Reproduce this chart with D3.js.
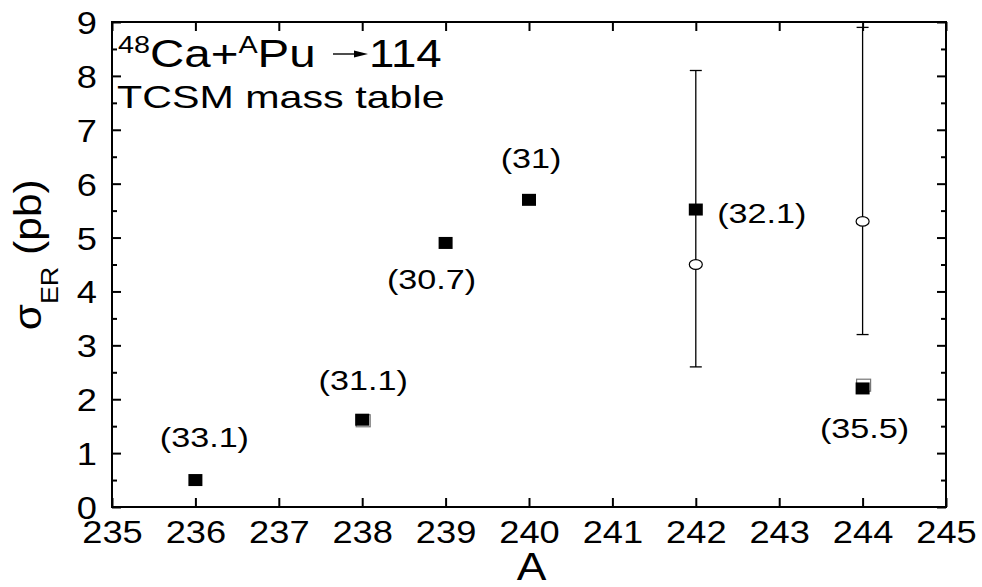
<!DOCTYPE html>
<html><head><meta charset="utf-8">
<script src="https://cdn.jsdelivr.net/npm/d3@7/dist/d3.min.js"></script>
<style>body{margin:0;background:#fff}svg{display:block}text{font-family:"Liberation Sans",Arial,sans-serif}</style>
</head><body>
<script>
const filledA = [236, 238, 239, 240, 242, 244];
const filledS = [0.5, 1.62, 4.9, 5.7, 5.52, 2.2];
const openSqA = [238, 244];
const openSqS = [1.6, 2.26];
const circA = [242, 244];
const circS = [4.5, 5.3];
const circLo = [2.6, 3.2];
const circHi = [8.1, 8.9];
const labelA = [236, 238, 239, 240, 242, 244];
const labelS = [0.5, 1.62, 4.9, 5.7, 5.52, 2.2];
const labelTxt = ["(33.1)", "(31.1)", "(30.7)", "(31)", "(32.1)", "(35.5)"];
const xTicks = d3.range(235, 246, 1);
const yTicks = d3.range(0, 10, 1);
const yMinor = d3.range(0.5, 9, 1);

const W = 982, H = 587;
const m = {l:112, r:36, t:22, b:80};
const svg = d3.select("body").append("svg").attr("width", W).attr("height", H);
const x = d3.scaleLinear().domain([235, 245]).range([m.l, W - m.r]);
const y = d3.scaleLinear().domain([0, 9]).range([H - m.b, m.t]);

// horizontally stretch a text around its anchor point
function stretch(sel, sx) {
  sel.each(function() {
    const t = d3.select(this);
    const tx = +t.attr("x") || 0, ty = +t.attr("y") || 0;
    t.attr("x", 0).attr("y", 0).attr("transform", `translate(${tx},${ty}) scale(${sx},1)`);
  });
}

// Frame
svg.append("rect").attr("x", x(235)).attr("y", y(9)).attr("width", x(245)-x(235)).attr("height", y(0)-y(9))
  .attr("fill", "none").attr("stroke", "#000").attr("stroke-width", 2);

const tfs = 31;
const xb = svg.append("g").attr("transform", `translate(0,${y(0)})`)
  .call(d3.axisBottom(x).tickValues(xTicks).tickSize(-9).tickPadding(14).tickFormat(d3.format("d")));
const xt = svg.append("g").attr("transform", `translate(0,${y(9)})`)
  .call(d3.axisTop(x).tickValues(xTicks).tickSize(-9).tickFormat(""));
const yl = svg.append("g").attr("transform", `translate(${x(235)},0)`)
  .call(d3.axisLeft(y).tickValues(yTicks).tickSize(-9).tickPadding(15).tickFormat(d3.format("d")));
const yr = svg.append("g").attr("transform", `translate(${x(245)},0)`)
  .call(d3.axisRight(y).tickValues(yTicks).tickSize(-9).tickFormat(""));
const ylm = svg.append("g").attr("transform", `translate(${x(235)},0)`)
  .call(d3.axisLeft(y).tickValues(yMinor).tickSize(-5).tickFormat(""));
const yrm = svg.append("g").attr("transform", `translate(${x(245)},0)`)
  .call(d3.axisRight(y).tickValues(yMinor).tickSize(-5).tickFormat(""));
[xb, xt, yl, yr, ylm, yrm].forEach(g => {
  g.select(".domain").remove();
  g.selectAll(".tick line").attr("stroke", "#000").attr("stroke-width", 2);
  g.selectAll("text").attr("font-size", tfs).attr("fill", "#000").style("font-family", '"Liberation Sans",Arial,sans-serif');
});
yl.selectAll("text").attr("dy", "0.37em");
stretch(xb.selectAll("text"), 1.17);
stretch(yl.selectAll("text"), 1.17);

// X axis label
svg.append("text").attr("x", x(240.03)).attr("y", 580).attr("text-anchor", "middle").attr("font-size", 39).text("A")
  .call(s => stretch(s, 1.14));
// Y axis label (rotated)
const yLab = svg.append("text").attr("transform", `translate(41,${y(4.68)}) rotate(-90) scale(1.12,1)`)
  .attr("text-anchor", "middle").attr("font-size", 38);
yLab.append("tspan").text("σ");
yLab.append("tspan").attr("font-size", 24).attr("dy", 17).text("ER");
yLab.append("tspan").attr("dy", -17).text(" (pb)");

// Title
const t1 = svg.append("text").attr("x", 118).attr("y", 67).attr("font-size", 38);
t1.append("tspan").attr("font-size", 23).attr("dy", -14).text("48");
t1.append("tspan").attr("dy", 14).text("Ca+");
t1.append("tspan").attr("font-size", 23).attr("dy", -14).text("A");
t1.append("tspan").attr("dy", 14).text("Pu");
stretch(t1, 1.25);
svg.append("line").attr("x1", 333).attr("x2", 360).attr("y1", 54).attr("y2", 54).attr("stroke", "#000").attr("stroke-width", 1.4);
svg.append("path").attr("d", "M354,50.5 L368,54 L354,57.5 Z").attr("fill", "#000");
const t1b = svg.append("text").attr("x", 369).attr("y", 67).attr("font-size", 38).text("114");
stretch(t1b, 1.2);
const t2 = svg.append("text").attr("x", 117).attr("y", 108).attr("font-size", 31).text("TCSM mass table");
stretch(t2, 1.33);

// Error bars
const eb = svg.append("g").attr("stroke", "#000").attr("stroke-width", 1.3);
circA.forEach((a, i) => {
  eb.append("line").attr("x1", x(a)).attr("x2", x(a)).attr("y1", y(circLo[i])).attr("y2", y(circHi[i]));
  [circLo[i], circHi[i]].forEach(v => eb.append("line").attr("x1", x(a)-6).attr("x2", x(a)+6).attr("y1", y(v)).attr("y2", y(v)));
});
svg.selectAll(".circ").data(circA).join("ellipse")
  .attr("cx", d => x(d)).attr("cy", (d, i) => y(circS[i])).attr("rx", 6.5).attr("ry", 4.8)
  .attr("fill", "#fff").attr("stroke", "#000").attr("stroke-width", 1.2);

// Open squares (behind)
const sw = 14, sh = 12;
svg.selectAll(".osq").data(openSqA).join("rect")
  .attr("x", d => x(d) - sw/2 + 1).attr("y", (d, i) => y(openSqS[i]) - sh/2)
  .attr("width", sw).attr("height", sh).attr("fill", "#fff").attr("stroke", "#777").attr("stroke-width", 1.2);
// Filled squares
svg.selectAll(".fsq").data(filledA).join("rect")
  .attr("x", d => x(d) - sw/2).attr("y", (d, i) => y(filledS[i]) - sh/2)
  .attr("width", sw).attr("height", sh).attr("fill", "#000");

// Point labels (offsets in px)
const lblOff = [[9, -43], [1, -40], [-14, 36], [2, -42], [66, 3], [2, 40]];
svg.selectAll(".lbl").data(labelTxt).join("text")
  .attr("x", (d, i) => x(labelA[i]) + lblOff[i][0]).attr("y", (d, i) => y(labelS[i]) + lblOff[i][1] + 10)
  .attr("text-anchor", "middle").attr("font-size", 28).text(d => d)
  .call(s => stretch(s, 1.22));
</script>
</body></html>
